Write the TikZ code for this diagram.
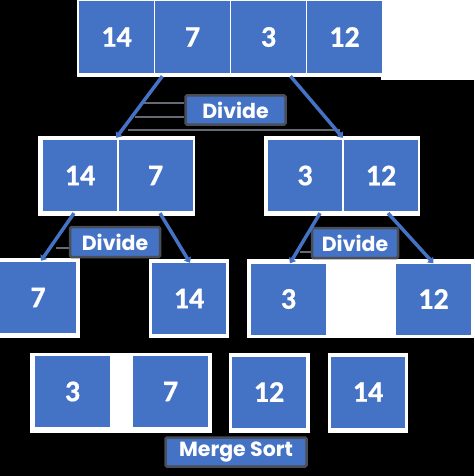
\documentclass[tikz,border=0pt]{standalone}
\usepackage{fontspec}
\usetikzlibrary{arrows.meta,calc}
\newfontfamily\numfont{Carlito}[UprightFont={* Bold}, FakeBold=0.6]
\newfontfamily\lblfont{Poppins}
\definecolor{mblue}{HTML}{4472C4}
\definecolor{shadowgrey}{HTML}{4A4E58}
\definecolor{linegrey}{HTML}{666A74}
\tikzset{
  cell/.style={rectangle, fill=mblue, draw=none, inner sep=0pt,
    minimum width=75pt, minimum height=71pt, text=white,
    font=\numfont\fontsize{30}{30}\selectfont},
  lbl/.style={rectangle, fill=mblue, draw=shadowgrey, line width=2.5pt,
    rounded corners=1.5pt, inner sep=0pt, text=white,
    font=\lblfont\bfseries\fontsize{20.5}{20.5}\selectfont},
  arr/.style={draw=mblue, line width=3.5pt, -{Triangle[length=5pt,width=8pt]}},
  gline/.style={draw=linegrey, line width=2.5pt},
  panel/.style={fill=white, draw=none}
}
\begin{document}
\begin{tikzpicture}[x=1pt,y=-1pt]
\useasboundingbox (0,0) rectangle (474,476);
\fill[black] (0,0) rectangle (474,476);
% white panels
\fill[panel] (77,0) rectangle (381,77);
\fill[panel] (381,0) rectangle (474,80);
\fill[panel] (38,136) rectangle (195,216);
\fill[panel] (264,136) rectangle (420,216);
\fill[panel] (0,258) rectangle (80,338);
\fill[panel] (149,259) rectangle (229,338);
\fill[panel] (247,259) rectangle (474,338);
\fill[panel] (30,353) rectangle (212,433);
\fill[panel] (229,353) rectangle (310,433);
\fill[panel] (328,353) rectangle (408,433);
% row 1
\node[cell, minimum height=72pt] (t1) at (116.5,37) {14};
\node[cell, minimum height=72pt] (t2) at (192.5,37) {7};
\node[cell, minimum height=72pt] (t3) at (268.5,37) {3};
\node[cell, minimum height=72pt] (t4) at (344.5,37) {12};
% row 2
\node[cell, minimum width=74pt] (m1) at (80,175.5) {14};
\node[cell, minimum width=74pt] (m2) at (155.5,175.5) {7};
\node[cell, minimum width=74pt] (m3) at (305,175.5) {3};
\node[cell, minimum width=74pt] (m4) at (381,175.5) {12};
% row 3
\node[cell, minimum width=76pt] (b1) at (38,297.5) {7};
\node[cell, minimum width=74pt] (b2) at (189,298.5) {14};
\node[cell] (b3) at (288.5,299) {3};
\node[cell] (b4) at (433.5,299) {12};
% row 4
\node[cell] (s1) at (72.5,391.5) {3};
\node[cell] (s2) at (170.5,391.5) {7};
\node[cell, minimum width=74pt] (s3) at (269,392) {12};
\node[cell, minimum width=74pt] (s4) at (368,392) {14};
% grey lines behind labels
\draw[gline] (143,103) -- (184,103);
\draw[gline] (135,117) -- (184,117);
\draw[gline] (128,130) -- (340,130);
\draw[gline] (56,248) -- (71,248);
\draw[gline] (300,252) -- (313,252);
% labels
\node[lbl, minimum width=100pt, minimum height=29pt] (d1) at (235.5,110) {Divide};
\node[lbl, minimum width=90pt, minimum height=30pt] (d2) at (115,242) {Divide};
\node[lbl, minimum width=86pt, minimum height=30pt] (d3) at (355,243) {Divide};
\node[lbl, minimum width=141pt, minimum height=29pt] (ms) at (236,452) {Merge Sort};
% arrows
\draw[arr] ($(t2.south west)+(7.5,3)$) -- ($(m1.north east)+(-1,-2)$);
\draw[arr] ($(t3.south)+(22,3)$) -- ($(m4.north west)+(-1,-2)$);
\draw[arr] ($(m1.south)+(-6,2)$) -- ($(b1.north)+(3,-1)$);
\draw[arr] ($(m2.south)+(4.5,2)$) -- ($(b2.north)+(1,0)$);
\draw[arr] ($(m3.south)+(15,2)$) -- ($(b3.north)+(1.5,0)$);
\draw[arr] ($(m4.south)+(7,2)$) -- ($(b4.north)+(0,0)$);
\end{tikzpicture}
\end{document}
